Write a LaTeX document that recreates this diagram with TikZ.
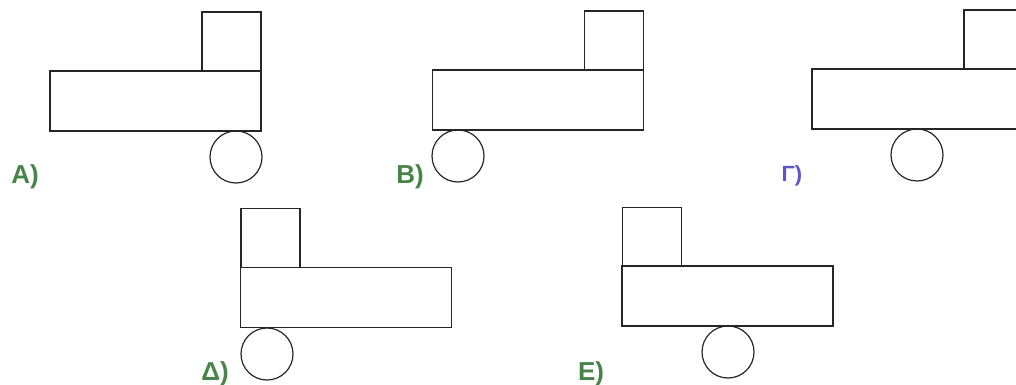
\documentclass[tikz,border=0pt]{standalone}
\usepackage{fontspec}
\setmainfont{Liberation Sans}
\definecolor{labgreen}{RGB}{72,132,72}
\definecolor{labpurple}{RGB}{95,85,200}
\begin{document}
\begin{tikzpicture}[x=1pt,y=-1pt,
  outline/.style={draw=black!85,line width=1.2pt,inner sep=0pt,outer sep=0pt,rectangle},
  body/.style={outline,minimum width=211pt,minimum height=60pt},
  cab/.style={outline,minimum width=59pt,minimum height=59pt},
  wheel/.style={draw=black!85,line width=1.2pt,circle,inner sep=0pt,outer sep=0pt,minimum size=52pt},
  lab/.style={font=\fontsize{26}{26}\selectfont\bfseries,text=labgreen,inner sep=0pt}]
\useasboundingbox (0,0) rectangle (1016,385);
\clip (0,0) rectangle (1016,385);
% A
\node[body] (abody) at (155.5,101) {};
\node[cab] (acab) at (231.5,41.5) {};
\node[wheel] (awheel) at (236,157) {};
\node[lab] (alab) at (25,177) {A)};
% B
\node[body] (bbody) at (538,100) {};
\node[cab] (bcab) at (614,40.5) {};
\node[wheel] (bwheel) at (458,156) {};
\node[lab] (blab) at (410,177) {B)};
% Gamma
\node[body] (gbody) at (917.5,99) {};
\node[cab] (gcab) at (993.5,39.5) {};
\node[wheel] (gwheel) at (917,155) {};
\node[lab,text=labpurple,font=\fontsize{22}{22}\selectfont\bfseries] (glab) at (792,176) {Γ)};
% Delta
\node[body] (dbody) at (346,297.5) {};
\node[cab] (dcab) at (270.5,238) {};
\node[wheel] (dwheel) at (267,354) {};
\node[lab] (dlab) at (215,374) {Δ)};
% E
\node[body] (ebody) at (727.5,296) {};
\node[cab] (ecab) at (652,237) {};
\node[wheel] (ewheel) at (728,352) {};
\node[lab] (elab) at (591,374) {E)};
\end{tikzpicture}
\end{document}
